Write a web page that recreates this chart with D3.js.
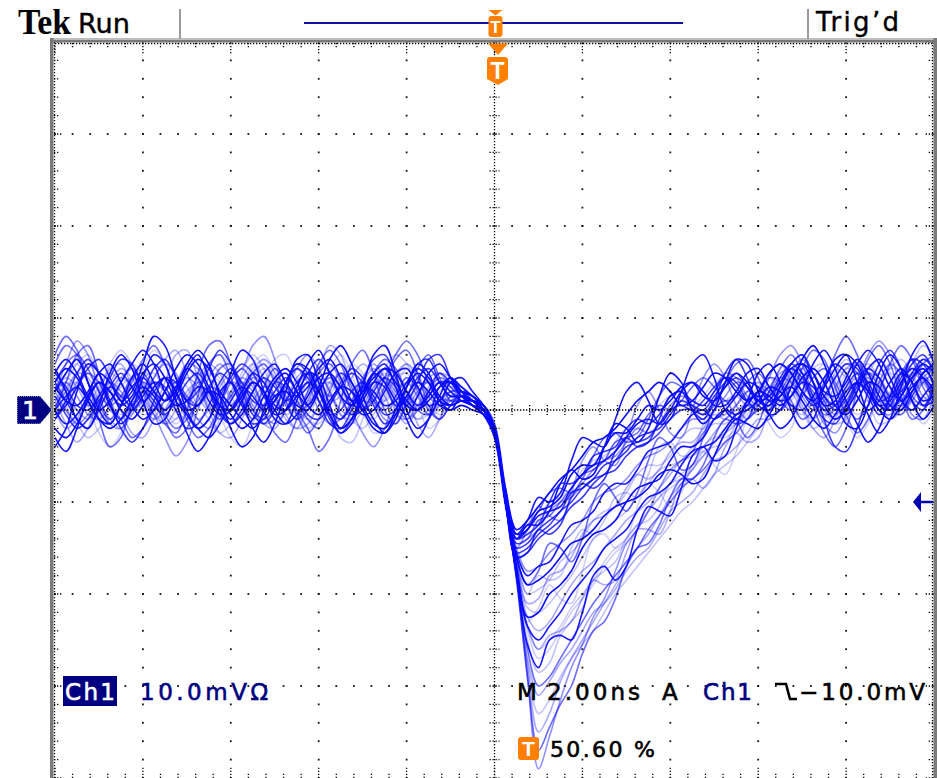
<!DOCTYPE html>
<html><head><meta charset="utf-8">
<script src="https://cdn.jsdelivr.net/npm/d3@7"></script>
<style>html,body{margin:0;padding:0;background:#fff;overflow:hidden}</style>
</head><body>
<svg id="c" width="937" height="778"></svg>
<script>
// ---- acquisition settings ----
const sampleStart = -10;      // ns (left edge of screen)
const sampleStep = 0.25;      // ns between samples
const timeDivs = [-10,-8,-6,-4,-2,0,2,4,6,8,10];       // ns, 2.00 ns/div
const voltDivs = [-40,-30,-20,-10,0,10,20,30,40];      // mV, 10.0 mV/div
const triggerLevel = -10;     // mV

// ---- waveform records (mV), 81 samples each ----
const trace01=[2,4,5.5,3,0,-1.5,0.5,3.5,5,3,1,2,4.5,6,3.5,0.5,-1,1,3,2,-0.5,0,2.5,5,6.5,4,1.5,0.5,2,4,3,1,-0.5,1.5,4,5,3.5,2,
1.5,0,-2.5,-9,-13.5,-13,-11,-10.5,-9.5,-7,-6,-6,-4,-2.5,-2.5,-1,0.5,0,1,2.5,3,1.5,1,2.5,4,3,1,0.5,2.5,
4.5,5,3,0.5,1,3.5,5.5,4,1.5,0,1.5,3.5,4.5,3];
const trace02=[0,-2,-1,1.5,3,2,0,-2.5,-3,-1,1,2.5,1,-1,0,2.5,4,3,0.5,-1.5,-2,0,2,3.5,2,-0.5,-1,1,3,4.5,3,0,-1.5,0,2,3,2.5,1.5,
1,0.5,-2,-10,-16.5,-21,-20.5,-18,-17.5,-16,-13.5,-12,-11.5,-10.5,-8.5,-7,-7.5,-6.5,-4.5,-3.5,-3.5,-2,-0.5,-1,0.5,2,1.5,0,1,
3,4.5,3,1,-1,0,2.5,4,3,0.5,-0.5,1,3,4];
const trace03=[3,1,-1,-2,0,2.5,4,2.5,1,2,3.5,2,-0.5,-2,-1,1.5,3.5,5,4,1.5,0,1,3,4,2,-1,-2.5,-1,1.5,3,2.5,0.5,1,3,5.5,6,3.5,1.5,
1,0.5,-1.5,-8.5,-14,-13.5,-12.5,-10,-8,-8,-7,-5,-4.5,-4,-2,-1,-1.5,-0.5,1.5,2,1,0.5,2,3.5,3,1,0,1,3,
5,6,4,1.5,0.5,2,3,1.5,-0.5,0.5,3,5,6,4];
const trace04=[1,3,5,6,4,1,-0.5,1,3.5,4,2,0,-1,0.5,2,1.5,0,1.5,4,5.5,4.5,2,0,-1,0.5,3,4,2.5,0,-1,1,3.5,5,4,1.5,0.5,1.5,2,
1.5,0,-2.5,-10,-17.5,-25,-28.5,-27.5,-24.5,-23,-21.5,-18.5,-17.5,-16.5,-14,-12.5,-12,-10.5,-8,-7.5,-6.5,-4.5,-4,-3.5,-1.5,0,-0.5,0.5,2,
3.5,2,0.5,1.5,4,5.5,4,1.5,0.5,2,4,3.5,1.5,1];
const trace05=[-1,0.5,2.5,4,3,0.5,-1,-3,-2,0,2,3,1.5,0.5,2,4.5,5,2.5,0,-1,0,2,1,-1,-2,0.5,3,4.5,3.5,1,0,1.5,3.5,2.5,0,-1,0.5,2,
1.5,0,-2,-9.5,-14.5,-14,-12,-11.5,-10,-8.5,-7,-6.5,-5.5,-3.5,-3,-2.5,-0.5,0.5,0,1,2.5,3.5,2.5,1,1.5,3,4,2.5,1,
0,1.5,3.5,4.5,3,0.5,-1,0.5,3,5,4,1.5,0.5,2];
const trace06=[4,5.5,4,1.5,0,1,3,5,6.5,5,2,0.5,1,2.5,2,0,-1.5,-0.5,2,4,5,3,1.5,2.5,4.5,5.5,3.5,1,-0.5,0,2,4,4.5,2.5,0.5,1,3,3.5,
2,0.5,-2,-9.5,-15.5,-18,-17,-16.5,-14.5,-12.5,-12,-11,-9,-8,-8,-6.5,-4.5,-4,-3.5,-2,-0.5,0,-1,0,1.5,3,2.5,1,1.5,
3.5,5,4,2,1.5,3,5,6.5,5,2.5,1,2,4,5];
const trace07=[2,0,-1.5,-0.5,1.5,3,2,0,1,3.5,5,4,1,-1,-2,-0.5,2,3.5,2.5,0.5,1,3,4.5,3,0,-1.5,-1,1,3.5,5,3.5,1.5,0.5,2,3,1.5,0.5,1,
1,0.5,-2,-9.5,-18,-29,-39,-35.5,-31.5,-28,-25.5,-22.5,-20.5,-17.5,-14.5,-13,-11,-8.5,-6.5,-5.5,-4.5,-2.5,-1,-0.5,0.5,2,3,2,1,
2.5,4,3,1,-0.5,0.5,2.5,4,3.5,1.5,0,1.5,3.5,4.5];
const trace08=[0.5,2,3,1.5,-0.5,-1,1,3.5,4.5,2.5,0,-1.5,0,2.5,4,3,1.5,2.5,5,6,4,1,-1,-0.5,1.5,3,2,0.5,1.5,3.5,4.5,3,0.5,-1,-0.5,1,2.5,2,
1,0,-2.5,-9,-13,-12.5,-12,-10,-9.5,-8.5,-6.5,-5.5,-5,-3.5,-2,-2,-1,0.5,1.5,1,0.5,1.5,3,3.5,2,0.5,1,2.5,4,
4.5,3,1,0,1.5,4,5,3.5,1.5,1.5,3,4.5,3.5,1.5];
const trace09=[3,4.5,3.5,1,-1,-2,-1,1,2.5,1.5,0,1.5,4,5.5,4.5,2,0.5,-1,-2,-0.5,1.5,2,0.5,0,2,4,5,3,0.5,-1.5,-2,0,2.5,4,3,1,0.5,1,
0.5,0,-2,-10,-17,-22.5,-22,-20,-19,-17.5,-15,-13.5,-13,-12,-10,-8.5,-8,-7.5,-5.5,-4,-4,-3,-1,0,-0.5,0.5,2,1.5,0.5,
1.5,3.5,4.5,3,0.5,-0.5,1,3,2.5,0.5,0,2,4,5];
const trace10=[-0.5,1,3,4,2,0,-1,0.5,2,3.5,5.5,6.5,4,1.5,0,1,3,2.5,0,-1.5,-1,1,3.5,4.5,2.5,1,1.5,3.5,5,4,1.5,-0.5,-1,0.5,2.5,4,3.5,2,
1.5,0,-2,-10,-18,-27,-31,-29.5,-27.5,-26,-24,-22,-21,-19.5,-17.5,-16,-15,-13,-11,-10,-9,-7,-5.5,-5,-4,-2.5,-1,-1,0.5,
2.5,3.5,2,0,-1,0.5,3,4.5,3.5,1,0,1.5,3,2.5];
const trace11=[1.5,-0.5,-2,-1,1,2.5,1.5,0.5,2,4.5,5.5,3.5,1,0.5,2.5,4,3,0.5,-1.5,-1,1,3,4.5,3.5,1,-0.5,0,2,3,1.5,-0.5,0,2.5,5,5.5,3,1.5,1.5,
0.5,-0.5,-3,-10,-15,-14.5,-13,-12,-11,-9,-8.5,-7.5,-6,-5.5,-4.5,-3,-2.5,-2,-0.5,1,0.5,0,1.5,3,4,2.5,1,1.5,3.5,
5,4,1.5,0,0.5,2.5,4,3,1,1.5,3.5,5.5,5,2.5];
const trace12=[2.5,4,5,3,1,1.5,3.5,4.5,2.5,0,-1.5,-1,1,3,3.5,1.5,0,1,3.5,5,3.5,1,-0.5,0.5,2.5,3,1,-1,-2,-0.5,1.5,3.5,4,2,0,0.5,2,2.5,
1.5,0.5,-2,-9.5,-16,-20,-19.5,-18.5,-16.5,-15.5,-14,-12,-11,-10.5,-9,-7,-6,-6,-5,-3,-2,-2,-1,1,1.5,0.5,1,2.5,4,
4.5,3,1,-0.5,0,2,4,5,3.5,1,0.5,2,3.5,3];
const trace13=[5,7,6,3,0.5,-1,0.5,3,5.5,7,5,2,-1,-3,-2,0.5,3,4.5,3,0,-2.5,-3.5,-1,2,5,6.5,5,2,0,1,3.5,6,7.5,6,3,1,0.5,1,
1,0,-2.5,-9,-13.5,-12.5,-11,-9,-8.5,-9,-7.5,-5,-3,-2.5,-3.5,-3,-1,1.5,3,2.5,0.5,-0.5,0.5,3,5,5.5,3.5,1,0,
1.5,4.5,6.5,5.5,2.5,-0.5,-2.5,-1,2,5,7,5.5,2.5,0.5];
const trace14=[0,1.5,2.5,1,-1,-1.5,0.5,2.5,3.5,2,1,2.5,4.5,3.5,1,-0.5,0,2,4,3,0.5,0,1.5,3,2,-0.5,-2,-1,1,3,4.5,4,2,0.5,1.5,3,2,1,
0.5,0,-2,-10,-17.5,-23.5,-25,-23.5,-22,-20,-18.5,-17,-15,-14,-13,-11,-9.5,-9,-8,-6,-4.5,-4,-3.5,-2,-0.5,0,1,2.5,2,
0.5,0,1.5,3.5,5,4,1.5,0,1,3,4.5,3,1,1.5];
const trace15=[3.5,2,0,-1,0.5,2,3.5,2.5,0.5,-1,0,2.5,5,4.5,2,0.5,1.5,3,2,-0.5,-1.5,0,2.5,4,3,1.5,2.5,4.5,3.5,1,-1,-1.5,0.5,2.5,3,1.5,1,1.5,
1,-0.5,-3,-9.5,-14.5,-14,-13,-11,-10,-9.5,-8,-6.5,-5.5,-5,-3.5,-2,-2.5,-1.5,0.5,1.5,1,0.5,2,4,3.5,1.5,0.5,2,3.5,
3,1.5,0,1,3.5,5,4,2,0,-0.5,1.5,4,5,3.5];
const trace16=[1,2.5,4,5,3,0.5,-1,-0.5,1.5,3,2,0,1,3,5,6,4.5,2,0.5,1.5,3.5,3,1,-1,-1.5,0.5,3,4,2.5,0.5,1,2.5,4.5,3.5,1,0,1,2,
1.5,0.5,-2,-10,-17.5,-24,-27,-26,-24,-22,-20.5,-19,-17,-15.5,-14.5,-13,-11,-9.5,-8.5,-7.5,-6,-4,-3,-3,-2,0,1.5,1,0,
1,3,4.5,3,1,0.5,2,4,5.5,4,1.5,0,1.5,3];
const trace17=[-2,-3,-1.5,1,3,2,0,-1,0.5,2.5,3.5,2,0,0.5,2,1.5,-0.5,-2,-1,1.5,3.5,4.5,3,0.5,-0.5,1,2.5,2,0,-2,-2.5,-0.5,1.5,3,2,0.5,0,0.5,
0,-0.5,-2.5,-10,-16,-19,-18.5,-17.5,-16,-14.5,-14,-13,-11.5,-10.5,-10,-9.5,-8.5,-7,-6.5,-7,-8,-7.5,-5,-2.5,-1,-1.5,-2,-0.5,1.5,
2.5,1,-1,-2,-0.5,1.5,3,2,0,-1,0.5,2.5,3.5,2];
const trace18=[2,3.5,2.5,0.5,1,3,4.5,3.5,1,-0.5,-1.5,0,2,3,1.5,0,1.5,3.5,5,3.5,1,0,1.5,3,4,2,-0.5,-1,0.5,2.5,3.5,2,0.5,1.5,3.5,4,2.5,1.5,
1,0,-2,-10,-18,-28,-35,-33,-29.5,-27,-25,-23,-21,-19,-17,-15,-13.5,-11.5,-9.5,-8,-6.5,-5,-3.5,-2.5,-1.5,0,0.5,2,3,
2,0,-1,0.5,2.5,4.5,5,3,1,0.5,2.5,4,3,1];
const trace19=[4,2.5,0.5,0,1.5,3.5,5.5,5,2.5,0.5,-0.5,1,3,4,2,-0.5,-1.5,0,2,3.5,2.5,1,2,4,5.5,4,1.5,-0.5,0,2,3.5,2.5,0.5,0,1.5,3,3,2,
1,0,-2.5,-10,-15.5,-15,-13.5,-12.5,-11,-10,-8.5,-7.5,-7,-5.5,-4,-3.5,-3,-1.5,0,0.5,0,1,2.5,3.5,2.5,1,2,4,5,
4,2,0.5,1.5,3.5,5,4.5,2,0.5,1,3,4.5,3.5,1.5];
const trace20=[1.5,0,-1.5,-3,-2,0.5,2.5,3.5,2,0,1,3,4.5,3,0.5,-1,0,2.5,4.5,5.5,4,1.5,0,0.5,2,1.5,-0.5,-1.5,0,2.5,4,3,1,0.5,2,3.5,2.5,1,
0.5,-0.5,-2.5,-10,-16.5,-21.5,-22,-21,-19.5,-18,-16,-14,-13,-12,-11,-9.5,-8,-6.5,-6,-5.5,-4,-2.5,-1.5,-1.5,-0.5,1,2.5,3.5,2.5,
0.5,-0.5,1,3,4.5,3.5,1.5,1,2.5,4.5,5.5,4,1.5,0.5];
const trace21=[3,5,6,4.5,2,0.5,1.5,3.5,4,2,-0.5,-2,-1,1,2.5,2,0.5,2,4,5,3,0.5,-1,0,2,3.5,2.5,0.5,1.5,4,5.5,4.5,2,0,-0.5,1,2,2,
1.5,0,-2.5,-10,-18,-26,-30,-29,-27,-25,-23,-21,-19.5,-18,-16.5,-15,-13,-11.5,-10,-8.5,-7.5,-6.5,-5,-3.5,-2.5,-1,0,0.5,1.5,
3.5,5,4,1.5,0,1,3,4,2.5,0.5,1,3,5,6];
const trace22=[0,-1.5,-0.5,1.5,3,2,0.5,1.5,4,5,3.5,1,-0.5,-2,-3,-1.5,1,2.5,1.5,0,1,3,5,4.5,2,0,-1,0.5,2.5,2,0.5,1,3,4.5,3.5,1.5,0.5,1,
1,0.5,-2,-9,-14,-13,-11.5,-11,-10.5,-8.5,-7,-6,-5.5,-4.5,-3,-1.5,-1,-1.5,0,2,3,2,0.5,0.5,2,4,4.5,2.5,1,
1.5,3,2.5,0.5,-1,0,2,4.5,5.5,3.5,1,0,1.5,3];
const trace23=[2,3,1.5,-0.5,-1,0.5,3,4.5,3,1,0,1.5,3.5,2.5,0,-1,0,2,3.5,3,1.5,2.5,4.5,6,4.5,2,0,-0.5,1,3,2.5,0.5,-1,0,2,3.5,3,2,
1,0,-2,-9.5,-15,-17.5,-17,-15.5,-14.5,-13.5,-12,-10,-9,-8.5,-7.5,-6,-5,-4.5,-3.5,-2,-1,-1,0,1.5,3,2.5,1,0.5,2,
4,5.5,4,1.5,0,0.5,2.5,3.5,2,0,-0.5,1.5,4,4.5];
const trace24=[-1,1,2.5,1.5,0,1,3,5,4,1.5,0,-1,0.5,2.5,4,3.5,1,-0.5,0,2,3,1.5,-0.5,-2,-1,1.5,3.5,5,4,2,1,2,3.5,2.5,0.5,-0.5,0.5,1.5,
1,0,-2,-10,-17,-23.5,-26,-25,-23.5,-21.5,-20,-18.5,-16.5,-15,-14,-12.5,-11,-9.5,-8,-7,-6,-5,-3.5,-2,-1.5,-0.5,1,2.5,2,
0.5,1.5,3.5,5,3.5,1,-0.5,0.5,2.5,4,3,1,1,2.5];
const trace25=[2.5,1,0.5,2,4,5,3,0.5,-1,0,2,4.5,6,5,2.5,0.5,0,1.5,3,2,0,-1.5,-0.5,1.5,3.5,4,2.5,1,2,3.5,4.5,3,1,0,1,2.5,3.5,2.5,
1.5,0.5,-2,-8.5,-13,-12,-10.5,-9,-7.5,-6.5,-5,-3.5,-3,-2,-0.5,1,2,3,2,0.5,1,2.5,4,3.5,2,1,2,4,5,
4,2,1,2.5,4.5,6,5,2.5,0.5,0,1.5,3.5,5,4];
const trace26=[0.5,2,4,3.5,1,-1,-2,-0.5,1.5,3,2,0.5,1.5,3.5,5,4,1.5,0,1,2.5,1.5,-0.5,-2,-1.5,0.5,2.5,4,3,1,1,2.5,4,5,3.5,1.5,0.5,1,1.5,
1,0,-2.5,-10,-17,-22.5,-24,-23,-21,-19,-17.5,-16.5,-15,-13.5,-12,-11,-10,-8.5,-7,-5.5,-5,-4,-2.5,-1,0,0.5,0,1,2.5,
4,3,1,-0.5,0,2,3.5,2.5,0.5,0.5,2.5,4.5,4,2];
const trace27=[-0.5,0.5,2.5,4.5,5.5,3.5,1,0,1.5,3,2.5,0,-2,-1.5,0.5,3,4.5,3,1,0.5,2,3.5,2,-0.5,-1,0.5,2.5,4,3,0.5,-1.5,-0.5,1.5,3.5,4.5,3,1.5,1.5,
1,0,-2.5,-10,-16,-15.5,-14,-13,-12,-10.5,-9.5,-8,-7,-6.5,-5,-4,-3.5,-2.5,-1,0,0,-0.5,1,2.5,3.5,2.5,1,1.5,3,
4.5,3.5,1,-1,-1.5,0.5,3,4.5,3.5,1.5,2,4,5.5,4.5];
const trace28=[3,1.5,0,0.5,2.5,4,3,1,-0.5,0,2,3.5,2.5,0.5,-1,-2.5,-1.5,1,3,4.5,3.5,1.5,0.5,2,4,5,3.5,1,0,1.5,3,2,0,-1,0,2,3,2,
1,0,-2,-10,-18,-27.5,-33,-31.5,-29,-27,-25.5,-24,-22,-20,-18.5,-17,-15.5,-14,-12.5,-11,-10,-8.5,-7,-6,-5,-3.5,-2,-1,0,
1.5,3,2,0,-1.5,-1,1,3,4,2.5,0.5,1,3,4];
const trace29=[6,8,6.5,3,-1,-4,-3,0.5,2,1,-1.5,-2.5,0,4,7,7.5,5,1.5,-1,0.5,3,2.5,0,-2,-4.5,-3,1,5,6.5,4,0,-1.5,1,4.5,6,3.5,1,1,
0.5,-0.5,-3,-10.5,-16,-19,-17.5,-14.5,-15,-16.5,-14,-10,-8,-9.5,-11,-9,-5.5,-3,-4,-6.5,-6,-3,0,1,-1,-3,-1.5,2,4.5,
6,4,0.5,-2.5,-4,-2,2,5.5,7,5,1.5,-1,0,3];
const trace30=[-3,-4.5,-2,1.5,4,3,1,2,5,8,7,3.5,0,-2,-1,2,3,1,-2,-3.5,-1.5,2,5.5,6,3,-0.5,-2.5,-1.5,1.5,4,5,2.5,-1,-3,-1,2.5,3,1.5,
0.5,-0.5,-2.5,-10,-18,-25.5,-28,-25,-24.5,-25,-22,-18,-17,-18.5,-17,-13,-10.5,-11,-11.5,-8.5,-5,-4,-5.5,-5,-2,1,1.5,-0.5,-2,
-1,2,5,6.5,4.5,1,-1.5,-3.5,-2,1.5,4,3,0.5,1];
const trace31=[2,5,7.5,6,2,-1.5,-2,0,1,-0.5,-3,-5,-3.5,0,3.5,5,4,4.5,7,8,5.5,1,-1,1,4,5,3,0,-2.5,-4,-2,1.5,3,1.5,-0.5,0.5,3,2.5,
1,0,-2.5,-9.5,-15,-13,-10.5,-11.5,-12,-9,-5.5,-4,-5.5,-6,-3,0.5,2,0,-2.5,-3,0,3.5,5,3.5,0.5,-1,0.5,3.5,6,
7,5,1.5,-1.5,-2.5,-0.5,3,6,7.5,6,2.5,-0.5,-1,1.5];
const trace32=[0,2.5,3,0.5,-2.5,-4,-2.5,1,4.5,6.5,5,1.5,0,1.5,2,-0.5,-3,-4,-1.5,2.5,5.5,6,3.5,1,2,4.5,6,4,0,-2.5,-2,0.5,2,0.5,-2,-1,1.5,2,
1,-0.5,-2.5,-10,-17,-23,-21.5,-19,-20.5,-21,-17.5,-14,-13.5,-15,-14,-10.5,-8,-9,-10.5,-9,-6,-4.5,-6,-7,-4.5,-1,0.5,-1.5,-3,
-2,1.5,4.5,5,2.5,-1,-3,-1.5,2,4.5,4,1,-1.5,0];
const trace33=[4.5,2,-1,-2,0.5,4,6,4.5,1,-1.5,-1,2,5,6.5,5,1.5,-2,-4,-3,0,3,4,2,0.5,2.5,5.5,7,5,1.5,-1,-2.5,-1,2.5,5,4,1,0,1.5,
1,0,-2,-9,-14,-12.5,-12.5,-11,-8,-6.5,-7.5,-7,-4,-1.5,-2,-3.5,-2,1.5,4,3,0,-1.5,0,3,5.5,5,2,-0.5,0,
2.5,5.5,7,5,1.5,-1.5,-2,0.5,4,6,4.5,1,-1,0.5];
const trace34=[1,-1.5,-3.5,-2,1.5,4.5,5,2.5,0,0.5,3,6,6.5,3.5,0,-2.5,-3,-1,2,3.5,1.5,-1,-2,0.5,4,7,6,2.5,0,1,3.5,4,1.5,-1.5,-3,-1,1.5,1.5,
0.5,-0.5,-2.5,-10,-17.5,-23.5,-26,-24.5,-24,-23,-20.5,-18.5,-19,-18.5,-15.5,-13,-13,-13.5,-11,-8,-7.5,-8.5,-7,-4,-2.5,-3.5,-3,0,2,
2.5,0.5,-2,-3,-1,2.5,5,4,1,-1,0,3,5.5,5];
const trace35=[-1,1,4,5.5,4,1,-2,-3.5,-2,1,3.5,3,1,2,4.5,6.5,5,2,-0.5,-1.5,0,3,5,4,1,-1.5,-2,0,3,5.5,6,3.5,0.5,0,2,4,3,1.5,
1,0,-2.5,-10,-16,-15.5,-13,-13.5,-12.5,-9.5,-8,-8.5,-7.5,-4.5,-3,-4,-3.5,-1,1.5,2,0,-1,1,4,5.5,3.5,0.5,0,2.5,
5,6,3,-1,-4,-4.5,-2,2,5,6.5,4.5,1,0,2.5];
const trace36=[3,0.5,-2,-1,2,5,6.5,5,2,0,1,2.5,1,-2,-3,-1,1.5,4,6,4.5,1.5,-0.5,0.5,3,2.5,0,-3,-3.5,-1,2,4.5,6,5,2,-0.5,0,2,2,
1.5,0,-2,-10,-16.5,-20,-18,-18.5,-18,-15,-13,-13.5,-12,-9.5,-9,-9.5,-7,-4,-3.5,-5,-4.5,-1.5,1,0.5,-1.5,-1,1.5,4,5,
3,0,-2,-1,2,4.5,4,1,-1.5,-1,2,5,7,6];
const trace37=[0,3,6,7,4,0.5,-1,1,3,2,-1,-3,-2,1.5,5,6,3.5,0.5,0,2.5,4.5,3,-0.5,-2.5,-1,2,4,3,0.5,0,2.5,5.5,6.5,4,0.5,-1,0.5,1.5,
1,0,-2.5,-10,-18.5,-29,-37,-34.5,-32,-30,-26.5,-24,-23,-20.5,-17,-15,-14.5,-12.5,-9.5,-7.5,-7.5,-6,-3,-1,-1.5,-1,1.5,3.5,3,
1,-1,0,3,6,8,6,2.5,0,1,4,5.5,3.5,1];
const trace38=[-4,-2,2,5,4,0.5,-1.5,0,3.5,6,5,1,-2.5,-4.5,-3,0.5,4,6.5,5.5,2,-1,-1.5,1,4,3.5,0.5,-2,-1,2.5,6,7,4,0,-2,-1,1.5,3.5,2,
0.5,0,-2,-9,-13.5,-12,-9.5,-10,-9,-5.5,-3,-3.5,-4,-1,2,3,1,-1.5,-1,2,5,6,3.5,0,-1,1,4,5,3,
0,-2,-1,2.5,5.5,6,3,-0.5,-2.5,-1,2.5,6,7.5,5];

const traces=[trace01,trace02,trace03,trace04,trace05,trace06,trace07,trace08,trace09,trace10,
trace11,trace12,trace13,trace14,trace15,trace16,trace17,trace18,trace19,trace20,
trace21,trace22,trace23,trace24,trace25,trace26,trace27,trace28,trace29,trace30,
trace31,trace32,trace33,trace34,trace35,trace36,trace37,trace38];

// ---- drawing ----
const svg=d3.select('#c');
const X0=55,X1=934,Y0=42,Y1=778;
const x=d3.scaleLinear().domain([timeDivs[0],timeDivs[timeDivs.length-1]]).range([X0,X1]);
const y=d3.scaleLinear().domain([voltDivs[0],voltDivs[voltDivs.length-1]]).range([Y1,Y0]);
const minorT=d3.range(timeDivs[0],timeDivs[timeDivs.length-1]+1e-9,0.4);
const minorV=d3.range(voltDivs[0],voltDivs[voltDivs.length-1]+1e-9,2);

svg.append('rect').attr('width',937).attr('height',778).attr('fill','#fff');

const defs=svg.append('defs');
defs.append('clipPath').attr('id','plot').append('rect')
  .attr('x',X0).attr('y',Y0).attr('width',X1-X0).attr('height',Y1-Y0);

// traces
const line=d3.line()
  .x((d,i)=>x(sampleStart+i*sampleStep))
  .y(d=>y(d))
  .curve(d3.curveCatmullRom.alpha(0.5));
const opac=[1,0.35,0.8,0.25,0.6,0.95,0.45,0.2];
const tg=svg.append('g').attr('clip-path','url(#plot)');
tg.selectAll('path').data(traces).join('path')
  .attr('d',line)
  .attr('fill','none')
  .attr('stroke','#0a0aff')
  .attr('stroke-width',1.6)
  .attr('stroke-linejoin','round')
  .attr('stroke-opacity',(d,i)=>opac[i%opac.length]);

// grid dots on major lines
const g=svg.append('g');
const dot=(cx,cy)=>g.append('rect').attr('x',cx-0.9).attr('y',cy-0.9).attr('width',1.8).attr('height',1.8).attr('fill','#111');
timeDivs.slice(1,-1).filter(t=>t!==0).forEach(t=>minorV.forEach(v=>dot(x(t),y(v))));
voltDivs.slice(1,-1).filter(v=>v!==0).forEach(v=>minorT.forEach(t=>dot(x(t),y(v))));

// centre crosshair
const dash=(x1,y1,x2,y2)=>g.append('line').attr('x1',x1).attr('y1',y1).attr('x2',x2).attr('y2',y2)
  .attr('stroke','#000').attr('stroke-width',1.3).attr('stroke-dasharray','1.3,1.7');
dash(X0,y(0),X1,y(0));
dash(x(0),Y0,x(0),Y1);
minorT.forEach(t=>dash(x(t),y(0)-5,x(t),y(0)+5));
minorV.forEach(v=>dash(x(0)-5,y(v),x(0)+5,y(v)));

// frame ticks
const isMajorT=t=>timeDivs.some(m=>Math.abs(m-t)<1e-6);
const isMajorV=v=>voltDivs.some(m=>Math.abs(m-v)<1e-6);
minorT.forEach(t=>{const L=isMajorT(t)?11:6; dash(x(t),Y0+1,x(t),Y0+1+L); dash(x(t),Y1,x(t),Y1-L);});
minorV.forEach(v=>{const L=isMajorV(v)?9:6; dash(X0-1,y(v),X0-1+L,y(v)); dash(X1-1,y(v),X1-1-L,y(v));});
dash(X0,Y0+1.5,X1,Y0+1.5);
dash(X0-0.5,Y0,X0-0.5,Y1);
dash(X1-1.5,Y0,X1-1.5,Y1);

// gray bezel
svg.append('rect').attr('x',50).attr('y',38).attr('width',887).attr('height',2).attr('fill','#bdbdbd');
svg.append('rect').attr('x',50).attr('y',40).attr('width',887).attr('height',2.5).attr('fill','#7a7a7a');
svg.append('rect').attr('x',50).attr('y',38).attr('width',3.5).attr('height',740).attr('fill','#7a7a7a');
svg.append('rect').attr('x',933.5).attr('y',38).attr('width',3.5).attr('height',740).attr('fill','#7a7a7a');

// header
svg.append('line').attr('x1',180).attr('x2',180).attr('y1',9).attr('y2',39).attr('stroke','#9a9a9a').attr('stroke-width',2);
svg.append('line').attr('x1',808).attr('x2',808).attr('y1',9).attr('y2',39).attr('stroke','#9a9a9a').attr('stroke-width',2);
svg.append('text').text('Tek').attr('x',18).attr('y',34).attr('font-family','Liberation Serif, serif')
  .attr('font-weight','bold').attr('font-size',35).attr('textLength',53).attr('lengthAdjust','spacingAndGlyphs').attr('fill','#000');
svg.append('text').text('Run').attr('x',78).attr('y',33).attr('font-family','DejaVu Sans, sans-serif')
  .attr('font-size',26).attr('textLength',52).attr('lengthAdjust','spacingAndGlyphs').attr('fill','#000')
  .attr('stroke','#000').attr('stroke-width',0.4);
svg.append('text').text('Trig\u2019d').attr('x',816).attr('y',31).attr('font-family','DejaVu Sans, sans-serif')
  .attr('font-size',26).attr('textLength',83).attr('lengthAdjust','spacing').attr('fill','#000')
  .attr('stroke','#000').attr('stroke-width',0.4);

// record bar with trigger marker
svg.append('line').attr('x1',304).attr('x2',683).attr('y1',23).attr('y2',23).attr('stroke','#1010a0').attr('stroke-width',2);
const orange='#ff7f00';
svg.append('path').attr('d','M488.5,10 L502.5,10 L495.5,15.5 Z').attr('fill',orange);
svg.append('rect').attr('x',488.5).attr('y',16).attr('width',14).attr('height',21).attr('rx',3).attr('fill',orange);
svg.append('text').text('T').attr('x',495.5).attr('y',33).attr('text-anchor','middle')
  .attr('font-family','Liberation Sans, Arial, sans-serif').attr('font-weight','bold').attr('font-size',17).attr('fill','#fff');

// trigger position marker below bezel
svg.append('path').attr('d','M488,43.5 L508,43.5 L498,55 Z').attr('fill',orange);
svg.append('path').attr('d','M487,60 Q487,57 490,57 L505,57 Q508,57 508,60 L508,79 L498,85 L487,79 Z').attr('fill',orange);
svg.append('text').text('T').attr('x',497.5).attr('y',79).attr('text-anchor','middle')
  .attr('font-family','Liberation Sans, Arial, sans-serif').attr('font-weight','bold').attr('font-size',23).attr('fill','#fff');

// channel 1 ground marker
svg.append('path').attr('d',`M17,${y(0)-14} L40,${y(0)-14} L52,${y(0)} L40,${y(0)+14} L17,${y(0)+14} Z`)
  .attr('fill','#000080').attr('stroke','#fff').attr('stroke-width',1).attr('stroke-dasharray','1,1');
svg.append('text').text('1').attr('x',30).attr('y',y(0)+9).attr('text-anchor','middle')
  .attr('font-family','DejaVu Sans, sans-serif').attr('font-size',25).attr('fill','#fff')
  .attr('stroke','#fff').attr('stroke-width',0.6);

// trigger level arrow
const ty=y(triggerLevel);
svg.append('path').attr('d',`M913,${ty} L921,${ty-10} L921,${ty-1.3} L933,${ty-1.3} L933,${ty+1.3} L921,${ty+1.3} L921,${ty+10} Z`)
  .attr('fill','#0000b0');

// readouts
const FONT='DejaVu Sans, sans-serif';
const txt=(s,x0,y0,len,col,size)=>svg.append('text').text(s).attr('x',x0).attr('y',y0)
  .attr('font-family',FONT).attr('font-size',size||23).attr('textLength',len).attr('lengthAdjust','spacing')
  .attr('fill',col).attr('stroke',col).attr('stroke-width',0.6);
svg.append('rect').attr('x',63).attr('y',676).attr('width',54).attr('height',30).attr('fill','#000080');
txt('Ch1',65,700,50,'#fff');
txt('10.0mV\u03A9',140,700,128,'#000080');
txt('M',517,700,20,'#000');
txt('2.00ns',547,700,93,'#000');
txt('A',662,700,18,'#000');
txt('Ch1',703,700,49,'#000080');
svg.append('path').attr('d','M775,684 L786,684 L790,699 L797,699').attr('fill','none').attr('stroke','#000').attr('stroke-width',2.6);
txt('\u221210.0mV',799,700,126,'#000');

svg.append('rect').attr('x',518).attr('y',737).attr('width',21).attr('height',23).attr('rx',3).attr('fill',orange);
svg.append('text').text('T').attr('x',528.5).attr('y',756).attr('text-anchor','middle')
  .attr('font-family','Liberation Sans, Arial, sans-serif').attr('font-weight','bold').attr('font-size',21).attr('fill','#fff');
txt('50.60 %',550,757,105,'#000',22);
</script>
</body></html>
